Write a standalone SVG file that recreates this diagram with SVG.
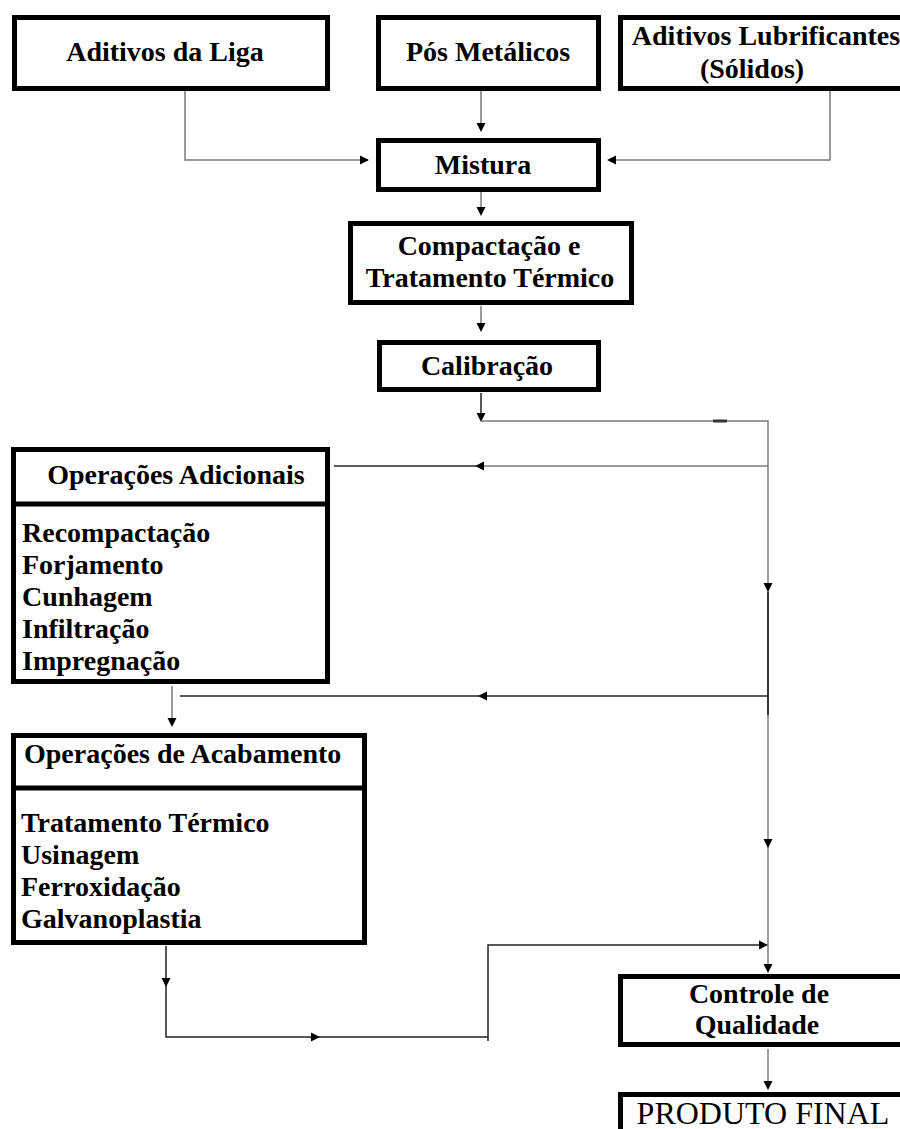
<svg xmlns="http://www.w3.org/2000/svg" width="900" height="1129" viewBox="0 0 900 1129">
  <style>
    .box { fill: #fff; stroke: #000; stroke-width: 5; }
    .div { stroke: #000; stroke-width: 5; }
    .t { font-family: "Liberation Serif", "Times New Roman", serif; font-weight: bold; font-size: 28px; fill: #000; }
    .c { text-anchor: middle; }
    .big { font-family: "Liberation Serif", "Times New Roman", serif; font-size: 32px; fill: #000; text-anchor: middle; }
    .ln { fill: none; stroke: #7a7a7a; stroke-width: 1.5; }
    .dk { fill: none; stroke: #222; stroke-width: 1.5; }
  </style>
  <defs>
    <!-- arrowhead pointing right, tip at origin -->
    <path id="ah" d="M0,0 L-9,-4.5 L-9,4.5 Z" fill="#000"/>
  </defs>
  <rect width="900" height="1129" fill="#fff"/>

  <g id="connectors">
    <!-- inputs into Mistura -->
    <polyline class="ln" points="185,91 185,160 368,160"/>
    <use href="#ah" transform="translate(369,160)"/>
    <line class="ln" x1="481" y1="91" x2="481" y2="130"/>
    <use href="#ah" transform="translate(481,132) rotate(90)"/>
    <polyline class="ln" points="830,91 830,160 609,160"/>
    <use href="#ah" transform="translate(607,160) rotate(180)"/>

    <!-- main chain -->
    <line class="ln" x1="481" y1="191" x2="481" y2="214"/>
    <use href="#ah" transform="translate(481,216) rotate(90)"/>
    <line class="ln" x1="481" y1="306" x2="481" y2="330"/>
    <use href="#ah" transform="translate(481,332) rotate(90)"/>
    <line class="dk" x1="481" y1="393" x2="481" y2="420"/>
    <use href="#ah" transform="translate(481,422) rotate(90)"/>

    <!-- bypass line along the right side -->
    <polyline class="ln" points="481,421 768,421 768,972"/>
    <line stroke="#333" stroke-width="3" x1="713" y1="421" x2="727" y2="421"/>
    <line stroke="#333" stroke-width="2" x1="768" y1="592" x2="768" y2="715"/>
    <use href="#ah" transform="translate(768,592) rotate(90)"/>
    <use href="#ah" transform="translate(768,848) rotate(90)"/>
    <use href="#ah" transform="translate(768,973) rotate(90)"/>

    <!-- branches to the left -->
    <line class="ln" x1="768" y1="466" x2="478" y2="466"/>
    <line class="dk" x1="476" y1="466" x2="334" y2="466"/>
    <use href="#ah" transform="translate(475,466) rotate(180)"/>
    <line class="dk" x1="768" y1="696" x2="180" y2="696"/>
    <use href="#ah" transform="translate(478,696) rotate(180)"/>

    <!-- Operações Adicionais to Operações de Acabamento -->
    <line class="ln" x1="172" y1="686" x2="172" y2="724"/>
    <use href="#ah" transform="translate(172,727) rotate(90)"/>

    <!-- Operações de Acabamento return path -->
    <polyline class="dk" points="166,946 166,1037 488,1037"/>
    <use href="#ah" transform="translate(166,987) rotate(90)"/>
    <use href="#ah" transform="translate(320,1037)"/>
    <polyline class="dk" points="488,1041 488,945 766,945"/>
    <use href="#ah" transform="translate(768,945)"/>

    <!-- Controle de Qualidade to PRODUTO FINAL -->
    <line class="ln" x1="768" y1="1049" x2="768" y2="1088"/>
    <use href="#ah" transform="translate(768,1090) rotate(90)"/>
  </g>

  <g id="aditivos-liga">
    <rect class="box" x="14.5" y="17.5" width="313" height="71"/>
    <text class="t c" x="165" y="61">Aditivos da Liga</text>
  </g>

  <g id="pos-metalicos">
    <rect class="box" x="378.5" y="17.5" width="220" height="71"/>
    <text class="t c" x="488" y="61">Pós Metálicos</text>
  </g>

  <g id="aditivos-lubrificantes">
    <rect class="box" x="620.5" y="17.5" width="300" height="71"/>
    <text class="t c" x="766" y="45">Aditivos Lubrificantes</text>
    <text class="t c" x="752" y="78">(Sólidos)</text>
  </g>

  <g id="mistura">
    <rect class="box" x="378.5" y="140.5" width="220" height="49"/>
    <text class="t c" x="483" y="174">Mistura</text>
  </g>

  <g id="compactacao">
    <rect class="box" x="350.5" y="223.5" width="281" height="79"/>
    <text class="t c" x="489" y="255">Compactação e</text>
    <text class="t c" x="490" y="287">Tratamento Térmico</text>
  </g>

  <g id="calibracao">
    <rect class="box" x="379.5" y="342.5" width="219" height="47"/>
    <text class="t c" x="487" y="375">Calibração</text>
  </g>

  <g id="operacoes-adicionais">
    <rect class="box" x="13.5" y="449.5" width="314" height="232"/>
    <line class="div" x1="13.5" y1="504" x2="327.5" y2="504"/>
    <text class="t c" x="176" y="484">Operações Adicionais</text>
    <text class="t" x="22" y="542">Recompactação</text>
    <text class="t" x="22" y="574">Forjamento</text>
    <text class="t" x="22" y="606">Cunhagem</text>
    <text class="t" x="22" y="638">Infiltração</text>
    <text class="t" x="22" y="670">Impregnação</text>
  </g>

  <g id="operacoes-acabamento">
    <rect class="box" x="13.5" y="735.5" width="351" height="207"/>
    <line class="div" x1="13.5" y1="788" x2="364.5" y2="788"/>
    <text class="t" x="24" y="763">Operações de Acabamento</text>
    <text class="t" x="21" y="832">Tratamento Térmico</text>
    <text class="t" x="21" y="864">Usinagem</text>
    <text class="t" x="21" y="896">Ferroxidação</text>
    <text class="t" x="21" y="928">Galvanoplastia</text>
  </g>

  <g id="controle-qualidade">
    <rect class="box" x="620.5" y="976.5" width="300" height="68"/>
    <text class="t c" x="759" y="1003">Controle de</text>
    <text class="t c" x="757" y="1034">Qualidade</text>
  </g>

  <g id="produto-final">
    <rect class="box" x="620.5" y="1094.5" width="300" height="60"/>
    <text class="big" x="763" y="1124">PRODUTO FINAL</text>
  </g>
</svg>
